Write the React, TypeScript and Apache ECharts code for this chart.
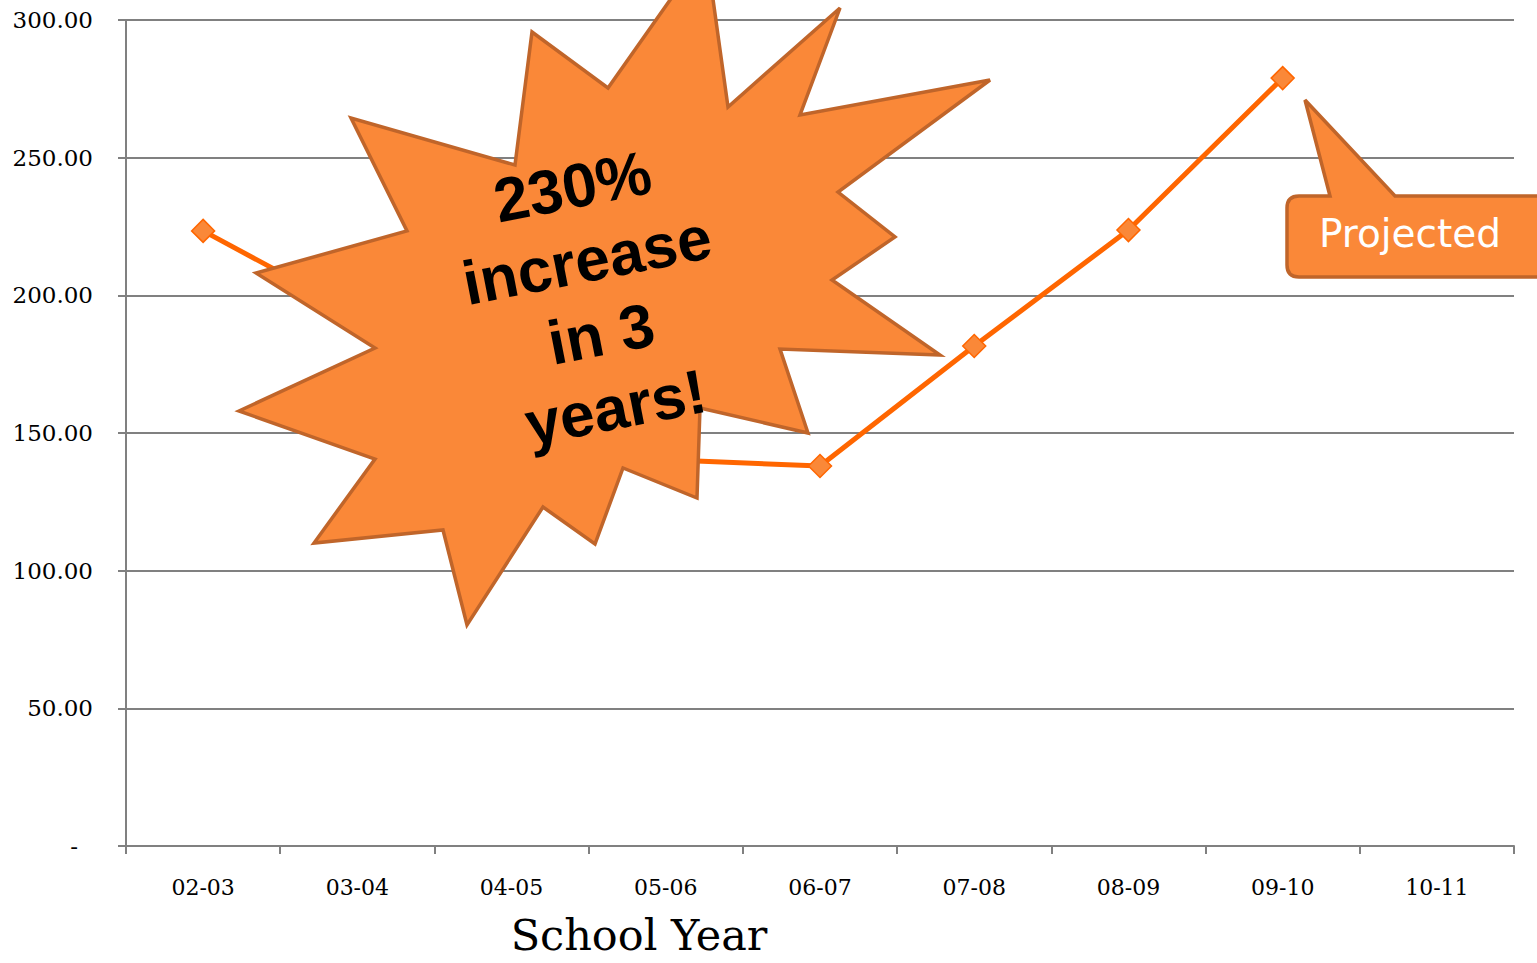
import React, { useEffect, useRef } from "react";
import * as echarts from "echarts";

const categories = ["02-03", "03-04", "04-05", "05-06", "06-07", "07-08", "08-09", "09-10", "10-11"];
const values: (number | null)[] = [223.4, 193.3, 165, 140.3, 138.0, 181.6, 223.7, 278.9, null];
const yTicks = { min: 0, max: 300, interval: 50 };
const axisTitle = "School Year";
const burstText = "230%\nincrease\nin 3\nyears!";
const calloutText = "Projected";

const starPoints: number[][] = [
  [532, 32], [608, 88], [706, -51], [728, 107], [840, 8], [800, 115], [990, 80],
  [838, 192], [895, 237], [832, 280], [940, 355], [780, 349], [808, 433], [700, 408],
  [697, 498], [623, 468], [595, 544], [543, 507], [467, 625], [443, 530], [314, 543],
  [375, 459], [239, 411], [375, 348], [256, 273], [407, 231], [351, 118], [515, 165],
];

const calloutPath =
  "M 1299 196 L 1330 196 L 1305 100 L 1395 196 L 1545 196 L 1545 277 L 1299 277 Q 1287 277 1287 265 L 1287 208 Q 1287 196 1299 196 Z";

let registered = false;

export default function App() {
  const ref = useRef<HTMLDivElement>(null);
  useEffect(() => {
    if (!ref.current) return;
    if (!registered) {
      echarts.graphic.registerShape("callout", echarts.graphic.extendPath(calloutPath, {}));
      registered = true;
    }
    const chart = echarts.init(ref.current, undefined, { renderer: "svg" });
    const serif = "DejaVu Serif";
    chart.setOption({
      animation: false,
      backgroundColor: "#ffffff",
      grid: { left: 126, top: 20, right: 23, bottom: 117 },
      xAxis: {
        type: "category",
        data: categories,
        boundaryGap: true,
        axisLine: { show: true, lineStyle: { color: "#808080", width: 2 } },
        axisTick: { show: true, length: 8, lineStyle: { color: "#808080", width: 2 } },
        axisLabel: { color: "#000", fontFamily: serif, fontSize: 22, margin: 30 },
        splitLine: { show: false },
      },
      yAxis: {
        type: "value",
        min: yTicks.min,
        max: yTicks.max,
        interval: yTicks.interval,
        axisLine: { show: true, lineStyle: { color: "#808080", width: 2 } },
        axisTick: { show: true, length: 8, lineStyle: { color: "#808080", width: 2 } },
        splitLine: { show: true, lineStyle: { color: "#808080", width: 2 } },
        axisLabel: {
          color: "#000",
          fontFamily: serif,
          fontSize: 23,
          margin: 33,
          formatter: (v: number) => (v === 0 ? "{d|-}" : v.toFixed(2)),
          rich: { d: { fontFamily: serif, fontSize: 23, color: "#000", padding: [0, 15, 0, 0] } },
        },
      },
      series: [
        {
          type: "line",
          data: values,
          connectNulls: false,
          lineStyle: { color: "#FF6600", width: 5 },
          itemStyle: { color: "#FA8838", borderColor: "#FF6600", borderWidth: 1.5 },
          symbol: "diamond",
          symbolSize: [23, 23],
          z: 2,
        },
      ],
      graphic: [
        {
          type: "polygon",
          z: 100,
          shape: { points: starPoints },
          style: { fill: "#FA8838", stroke: "#C0652A", lineWidth: 3.5, lineJoin: "miter" },
        },
        {
          type: "text",
          z: 101,
          x: 594,
          y: 297,
          rotation: (11 * Math.PI) / 180,
          style: {
            text: burstText,
            fill: "#000",
            font: "bold 62px 'Liberation Sans', Arial, sans-serif",
            align: "center",
            verticalAlign: "middle",
            lineHeight: 75,
          },
        },
        {
          type: "callout",
          z: 100,
          x: 0,
          y: 0,
          style: { fill: "#FA8838", stroke: "#C0652A", lineWidth: 3.5, lineJoin: "miter" },
        },
        {
          type: "text",
          z: 101,
          x: 1410,
          y: 233,
          style: {
            text: calloutText,
            fill: "#ffffff",
            font: "39px 'DejaVu Sans', sans-serif",
            align: "center",
            verticalAlign: "middle",
          },
        },
        {
          type: "text",
          z: 101,
          x: 639,
          y: 935,
          style: {
            text: axisTitle,
            fill: "#000",
            font: `43px '${serif}', serif`,
            align: "center",
            verticalAlign: "middle",
          },
        },
      ],
    });
    return () => chart.dispose();
  }, []);
  return <div ref={ref} style={{ position: "absolute", left: 0, top: 0, width: 1537, height: 963 }} />;
}
